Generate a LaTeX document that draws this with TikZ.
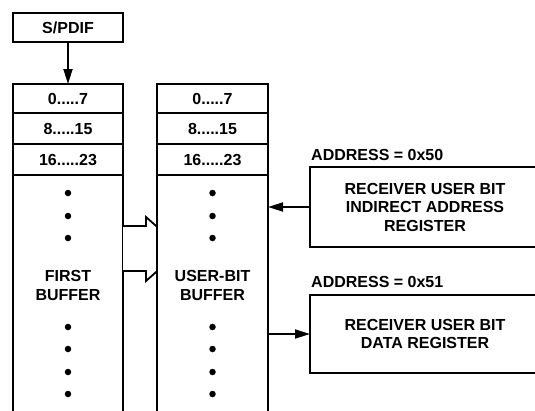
\documentclass[tikz,border=0pt]{standalone}
\usepackage{fontspec}
\setmainfont{Liberation Sans}
\usetikzlibrary{arrows.meta,calc}
\begin{document}
\begin{tikzpicture}[x=1pt,y=-1pt,
  every node/.style={font=\bfseries\fontsize{16}{18.5}\selectfont},
  box/.style={draw,line width=1.8pt,fill=white,inner sep=0pt,outer sep=0pt,align=center},
  dot/.style={circle,fill=black,inner sep=0pt,minimum size=6.5pt},
  lbl/.style={inner sep=0pt,anchor=west},
  conn/.style={line width=1.8pt,-{Triangle[length=15pt,width=9pt]}},
  blockarrow/.style={draw,line width=1.8pt,fill=white,line join=miter}]
\useasboundingbox (0,0) rectangle (535,410);
\clip (0,0) rectangle (535,410);
% S/PDIF
\node[box,minimum width=110pt,minimum height=29pt] (spdif) at (68,27.5) {S/PDIF};
% first buffer
\node[box,minimum width=110pt,minimum height=29pt] (a1) at (68,98.5) {0.....7};
\node[box,minimum width=110pt,minimum height=31pt] (a2) at (68,128.5) {8.....15};
\node[box,minimum width=110pt,minimum height=31pt] (a3) at (68,159.5) {16.....23};
\node[box,minimum width=110pt,minimum height=260pt] (a4) at (68,305) {};
\node[align=center] (t1) at (68,285.5) {FIRST\\BUFFER};
% block arrows
\draw[blockarrow] (a4.east |- 0,226) -- (146,226) -- (146,217) -- (182,249) -- (146,281) -- (146,271) -- (a4.east |- 0,271);
% user-bit buffer
\node[box,minimum width=111pt,minimum height=29pt] (b1) at (212.5,98.5) {0.....7};
\node[box,minimum width=111pt,minimum height=31pt] (b2) at (212.5,128.5) {8.....15};
\node[box,minimum width=111pt,minimum height=31pt] (b3) at (212.5,159.5) {16.....23};
\node[box,minimum width=111pt,minimum height=260pt] (b4) at (212.5,305) {};
\node[align=center] (t2) at (212.5,285.5) {USER-BIT\\BUFFER};
% dots
\foreach \y [count=\i] in {193,216,238,327,349,372,394}{
  \node[dot] (da\i) at (68,\y) {};
  \node[dot] (db\i) at (212.5,\y) {};
}
% registers
\node[box,minimum width=230pt,minimum height=80pt] (r1) at (425,207) {RECEIVER USER BIT\\INDIRECT ADDRESS\\REGISTER};
\node[box,minimum width=230pt,minimum height=78pt] (r2) at (425,334) {RECEIVER USER BIT\\DATA REGISTER};
\node[lbl] (l1) at (311,155) {ADDRESS = 0x50};
\node[lbl] (l2) at (311,282) {ADDRESS = 0x51};
% connectors
\draw[conn] (spdif) -- (a1);
\draw[conn] (r1.west) -- (r1.west -| b4.east);
\draw[conn] (r2.west -| b4.east) -- (r2.west);
\end{tikzpicture}
\end{document}
